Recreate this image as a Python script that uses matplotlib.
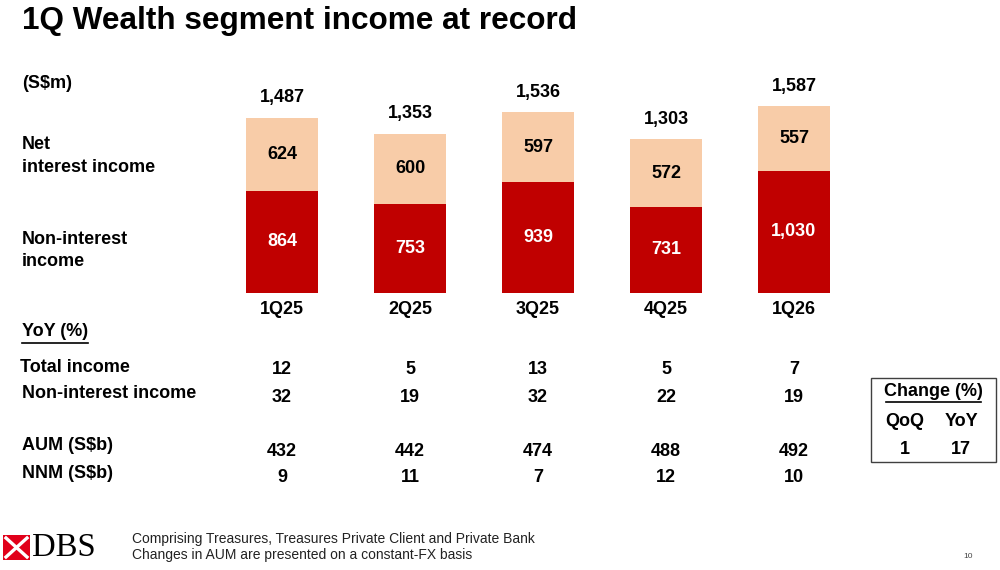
import matplotlib
matplotlib.use("Agg")
import matplotlib.pyplot as plt
import matplotlib.transforms as mtransforms
from matplotlib.patches import Rectangle, Polygon
from matplotlib.lines import Line2D

# ---------------- data ----------------
quarters = ["1Q25", "2Q25", "3Q25", "4Q25", "1Q26"]
non_interest_income = [864, 753, 939, 731, 1030]
net_interest_income = [624, 600, 597, 572, 557]
total_income = [1487, 1353, 1536, 1303, 1587]
yoy_total_income = [12, 5, 13, 5, 7]
yoy_non_interest_income = [32, 19, 32, 22, 19]
aum_sbn = [432, 442, 474, 488, 492]
nnm_sbn = [9, 11, 7, 12, 10]
aum_change_qoq = 1
aum_change_yoy = 17

RED = "#C00000"
PEACH = "#F8CCA8"
FONT = "Liberation Sans"

plt.rcParams["font.family"] = [FONT, "DejaVu Sans"]

W, H = 1000, 570
fig = plt.figure(figsize=(W / 100, H / 100), dpi=100)


def fx(x):
    return x / W


def fy(y):
    return 1 - y / H


LBL = 13
VAL = 13

# ---------------- bars ----------------
ax = fig.add_axes([fx(218), fy(292.5), 640 / W, 211.5 / H])
ax.set_xlim(-0.5, 4.5)
ax.set_ylim(0, 1800)
ax.axis("off")
xs = list(range(len(quarters)))
bw = 0.555
ax.bar(xs, non_interest_income, width=bw, color=RED)
ax.bar(xs, net_interest_income, width=bw, bottom=non_interest_income, color=PEACH)
for i in xs:
    nii = non_interest_income[i]
    ni = net_interest_income[i]
    ax.text(i, nii / 2, f"{nii:,}", ha="center", va="center", color="white",
            fontsize=VAL, fontweight="bold")
    ax.text(i, nii + ni / 2, f"{ni:,}", ha="center", va="center", color="black",
            fontsize=VAL, fontweight="bold")
    ax.annotate(f"{total_income[i]:,}", (i, nii + ni), xytext=(0, 20),
                textcoords="offset pixels", ha="center", va="center",
                fontsize=VAL, fontweight="bold")

blend = mtransforms.blended_transform_factory(ax.transData, fig.transFigure)
for i in xs:
    fig.text(i, fy(310), quarters[i], transform=blend, ha="center", va="center",
             fontsize=VAL, fontweight="bold")
    fig.text(i, fy(369), str(yoy_total_income[i]), transform=blend, ha="center",
             va="center", fontsize=VAL, fontweight="bold")
    fig.text(i, fy(398), str(yoy_non_interest_income[i]), transform=blend,
             ha="center", va="center", fontsize=VAL, fontweight="bold")
    fig.text(i, fy(451), str(aum_sbn[i]), transform=blend, ha="center",
             va="center", fontsize=VAL, fontweight="bold")
    fig.text(i, fy(478), str(nnm_sbn[i]), transform=blend, ha="center",
             va="center", fontsize=VAL, fontweight="bold")

# ---------------- title & left labels ----------------
fig.text(fx(22), fy(20.5), "1Q Wealth segment income at record", ha="left",
         va="center", fontsize=22.7, fontweight="bold")
fig.text(fx(22), fy(83), "(S$m)", ha="left", va="center", fontsize=LBL,
         fontweight="bold")
fig.text(fx(22), fy(156), "Net\ninterest income", ha="left", va="center",
         fontsize=LBL, fontweight="bold", linespacing=1.4)
fig.text(fx(22), fy(250.5), "Non-interest\nincome", ha="left", va="center",
         fontsize=LBL, fontweight="bold", linespacing=1.4)

fig.text(fx(22), fy(331), "YoY (%)", ha="left", va="center", fontsize=LBL,
         fontweight="bold")
fig.add_artist(Line2D([fx(22), fx(88)], [fy(343), fy(343)], color="black",
                      lw=1.2, transform=fig.transFigure))
fig.text(fx(20), fy(367), "Total income", ha="left", va="center", fontsize=LBL,
         fontweight="bold")
fig.text(fx(22), fy(393), "Non-interest income", ha="left", va="center",
         fontsize=LBL, fontweight="bold")
fig.text(fx(22), fy(446), "AUM (S$b)", ha="left", va="center", fontsize=LBL,
         fontweight="bold")
fig.text(fx(22), fy(473), "NNM (S$b)", ha="left", va="center", fontsize=LBL,
         fontweight="bold")

# ---------------- change box ----------------
fig.add_artist(Rectangle((fx(871), fy(462)), 125 / W, 84 / H, fill=False,
                         edgecolor="#404040", lw=1.0, transform=fig.transFigure))
fig.text(fx(933), fy(391), "Change (%)", ha="center", va="center", fontsize=LBL,
         fontweight="bold")
fig.add_artist(Line2D([fx(886), fx(981)], [fy(402), fy(402)], color="black",
                      lw=1.2, transform=fig.transFigure))
fig.text(fx(905), fy(421), "QoQ", ha="center", va="center", fontsize=LBL,
         fontweight="bold")
fig.text(fx(961), fy(421), "YoY", ha="center", va="center", fontsize=LBL,
         fontweight="bold")
fig.text(fx(905), fy(450), str(aum_change_qoq), ha="center", va="center",
         fontsize=VAL, fontweight="bold")
fig.text(fx(961), fy(450), str(aum_change_yoy), ha="center", va="center",
         fontsize=VAL, fontweight="bold")

# ---------------- footer ----------------
LOGO_RED = "#E1001A"
fig.add_artist(Rectangle((fx(3), fy(560)), 27 / W, 25 / H, color=LOGO_RED,
                         transform=fig.transFigure, lw=0))
for (x0, y0, x1, y1) in [(6, 538, 27, 557), (27, 538, 6, 557)]:
    fig.add_artist(Line2D([fx(x0), fx(x1)], [fy(y0), fy(y1)], color="white",
                          lw=2.4, transform=fig.transFigure))
fig.add_artist(Polygon([(fx(16.5), fy(544)), (fx(20), fy(547.5)),
                        (fx(16.5), fy(551)), (fx(13), fy(547.5))],
                       closed=True, color=LOGO_RED, transform=fig.transFigure,
                       lw=0))
fig.text(fx(32), fy(548), "DBS", ha="left", va="center", fontsize=23.5,
         family=["Liberation Serif", "DejaVu Serif"], color="black")

fig.text(fx(132), fy(539), "Comprising Treasures, Treasures Private Client and Private Bank",
         ha="left", va="center", fontsize=10, color="#222222")
fig.text(fx(132), fy(555), "Changes in AUM are presented on a constant-FX basis",
         ha="left", va="center", fontsize=10, color="#222222")
fig.text(fx(968), fy(557), "10", ha="center", va="center", fontsize=6,
         color="#444444")

fig.savefig("out.png", dpi=100)
